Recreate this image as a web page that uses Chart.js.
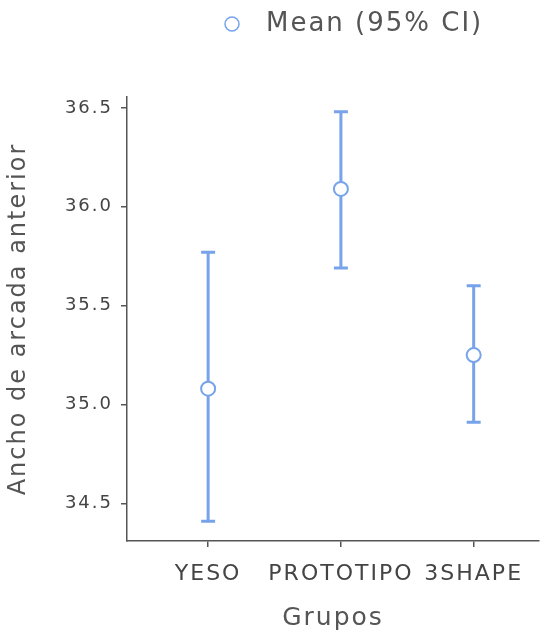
<!DOCTYPE html>
<html>
<head>
<meta charset="utf-8">
<script src="https://cdn.jsdelivr.net/npm/chart.js@4"></script>
<style>
  html, body { margin: 0; padding: 0; background: #fff; }
  #wrap { width: 548px; height: 637px; }
</style>
</head>
<body>
<div id="wrap"><canvas id="chart"></canvas></div>
<script>
const groups = ['YESO', 'PROTOTIPO', '3SHAPE'];
const means = [35.08, 36.09, 35.25];
const lower = [34.41, 35.69, 34.91];
const upper = [35.77, 36.48, 35.60];
const yTicks = [34.5, 35.0, 35.5, 36.0, 36.5];

const blue = '#77a3ea';
const axisGrey = '#555';
const font = 'DejaVu Sans, Verdana, sans-serif';

// the original text is set wide, so space the letters out a bit
const wideText = {
  id: 'wideText',
  beforeDraw(chart) { chart.ctx.letterSpacing = '2px'; }
};

// draws the CI whiskers and caps under the points
const errorBars = {
  id: 'errorBars',
  beforeDatasetsDraw(chart) {
    const { ctx, scales: { x, y } } = chart;
    ctx.save();
    ctx.strokeStyle = blue;
    ctx.lineWidth = 3;
    groups.forEach((g, i) => {
      const px = x.getPixelForValue(i + 1);
      const top = y.getPixelForValue(upper[i]);
      const bot = y.getPixelForValue(lower[i]);
      ctx.beginPath();
      ctx.moveTo(px, top); ctx.lineTo(px, bot);
      ctx.moveTo(px - 7, top); ctx.lineTo(px + 7, top);
      ctx.moveTo(px - 7, bot); ctx.lineTo(px + 7, bot);
      ctx.stroke();
    });
    ctx.restore();
  }
};

// legend sits off-centre in the original, so draw it by hand
const topLegend = {
  id: 'topLegend',
  afterDraw(chart) {
    const { ctx } = chart;
    ctx.save();
    ctx.beginPath();
    ctx.arc(232, 24, 7, 0, Math.PI * 2);
    ctx.fillStyle = '#fff';
    ctx.fill();
    ctx.lineWidth = 1.5;
    ctx.strokeStyle = blue;
    ctx.stroke();
    ctx.fillStyle = '#555';
    ctx.font = '26px ' + font;
    ctx.textBaseline = 'middle';
    ctx.fillText(chart.data.datasets[0].label, 266, 24);
    ctx.restore();
  }
};

new Chart(document.getElementById('chart'), {
  type: 'scatter',
  data: {
    datasets: [{
      label: 'Mean (95% CI)',
      data: means.map((m, i) => ({ x: i + 1, y: m })),
      pointRadius: 7,
      pointBackgroundColor: '#fff',
      pointBorderColor: blue,
      pointBorderWidth: 2,
    }]
  },
  plugins: [wideText, errorBars, topLegend],
  options: {
    responsive: true,
    maintainAspectRatio: false,
    animation: false,
    layout: { padding: { top: 97, right: 3, left: 0, bottom: 0 } },
    plugins: { legend: { display: false }, tooltip: { enabled: false } },
    scales: {
      x: {
        type: 'linear',
        min: 0.389,
        max: 3.492,
        afterBuildTicks: s => { s.ticks = groups.map((g, i) => ({ value: i + 1 })); },
        afterFit: s => { s.height = 96; },
        ticks: {
          callback: v => groups[v - 1],
          color: '#444',
          font: { family: font, size: 22 },
          padding: 14,
          maxRotation: 0,
          autoSkip: false,
        },
        grid: { drawOnChartArea: false, drawTicks: true, tickLength: 6, color: axisGrey, lineWidth: 1.5 },
        border: { display: true, color: axisGrey, width: 1.5 },
        title: { display: true, text: 'Grupos', color: '#555', font: { family: font, size: 25 }, padding: { top: 4, bottom: 4 } },
      },
      y: {
        min: 34.31,
        max: 36.555,
        afterBuildTicks: s => { s.ticks = yTicks.map(v => ({ value: v })); },
        afterFit: s => { s.width = 127; },
        ticks: {
          callback: v => v.toFixed(1),
          color: '#444',
          font: { family: font, size: 18 },
          padding: 8,
        },
        grid: { drawOnChartArea: false, drawTicks: true, tickLength: 6, color: axisGrey, lineWidth: 1.5 },
        border: { display: true, color: axisGrey, width: 1.5 },
        title: { display: true, text: 'Ancho de arcada anterior', color: '#555', font: { family: font, size: 24 }, padding: { bottom: 4 } },
      }
    }
  }
});
</script>
</body>
</html>
